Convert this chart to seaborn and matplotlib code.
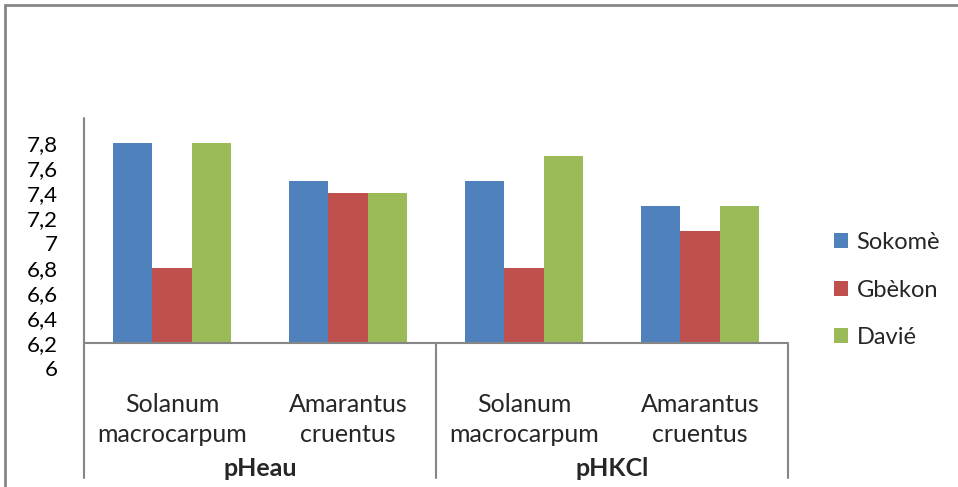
import numpy as np
import pandas as pd
import matplotlib.pyplot as plt
import matplotlib.transforms as mtransforms
from matplotlib.patches import Rectangle, Patch
from matplotlib.ticker import FuncFormatter
import seaborn as sns

# data
groups = ["pHeau", "pHKCl"]
species = ["Solanum\nmacrocarpum", "Amarantus\ncruentus"]
sites = ["Sokomè", "Gbèkon", "Davié"]
sokome = [7.8, 7.5, 7.5, 7.3]
gbekon = [6.8, 7.4, 6.8, 7.1]
davie = [7.8, 7.4, 7.7, 7.3]
colors = ["#4F81BD", "#C0504D", "#9BBB59"]
base = 6.2

keys = [g + "|" + s for g in groups for s in species]
rows = []
for site, vals in zip(sites, [sokome, gbekon, davie]):
    for k, v in zip(keys, vals):
        rows.append({"cat": k, "site": site, "h": v - base})
df = pd.DataFrame(rows)

sns.set_style("white")
plt.rcParams["font.family"] = ["Lato", "DejaVu Sans"]
grey = "#868686"

fig = plt.figure(figsize=(9.58, 4.87), dpi=100)
ax = fig.add_axes([84 / 958, (487 - 368) / 487, (788 - 84) / 958, 250 / 487])

sns.barplot(data=df, x="cat", y="h", hue="site", order=keys, hue_order=sites,
            palette=colors, width=0.67, gap=0, bottom=base, saturation=1,
            edgecolor="none", linewidth=0, ax=ax, legend=False)

ax.set_xlim(-0.5, 3.5)
ax.set_ylim(6.0, 8.0)
ax.set_yticks(np.arange(6.0, 7.81, 0.2))
ax.yaxis.set_major_formatter(FuncFormatter(lambda v, p: f"{v:.1f}".rstrip("0").rstrip(".").replace(".", ",")))
ax.tick_params(axis="y", length=0, pad=19, labelsize=16, labelcolor="black")
ax.set_xticks(range(4))
ax.set_xticklabels(species * 2, fontsize=18, linespacing=1.37)
ax.tick_params(axis="x", length=0, pad=18)
ax.set_xlabel("")
ax.set_ylabel("")
for sp in ax.spines.values():
    sp.set_visible(False)

# category axis with grouping lines
ax.axhline(base, color=grey, lw=1.5)
tr = mtransforms.blended_transform_factory(ax.transData, ax.transAxes)
ax.plot([-0.5, -0.5], [1.0, -0.44], color=grey, lw=1.5, transform=tr, clip_on=False)
for xv in [1.5, 3.5]:
    ax.plot([xv, xv], [0.1, -0.44], color=grey, lw=1.5, transform=tr, clip_on=False)
for i, g in enumerate(groups):
    ax.text(2 * i + 0.5, -0.4, g, transform=tr, ha="center", va="center",
            fontsize=18, fontweight="bold")

handles = [Patch(facecolor=c, edgecolor="none") for c in colors]
fig.legend(handles, sites, loc="center left", bbox_to_anchor=(813 / 958, 1 - 290 / 487),
           frameon=False, fontsize=17, handlelength=0.6, handleheight=0.6,
           handletextpad=0.34, labelspacing=1.12)

# outer chart frame
fig.add_artist(Rectangle((4.5 / 958, -0.2), 1.2, 1.2 - 4.5 / 487, transform=fig.transFigure,
                         fill=False, edgecolor=grey, lw=2))

fig.savefig("out.png", dpi=100)
